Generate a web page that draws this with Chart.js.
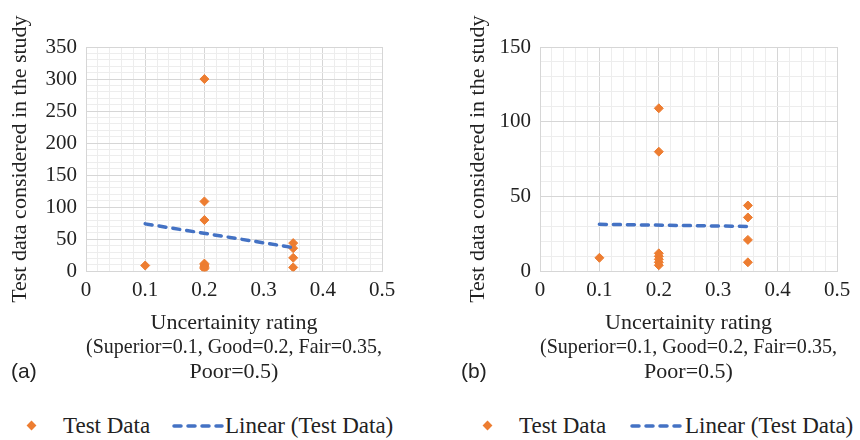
<!DOCTYPE html>
<html>
<head>
<meta charset="utf-8">
<script src="https://cdn.jsdelivr.net/npm/chart.js@4/dist/chart.umd.min.js"></script>
<style>
  html, body { margin: 0; padding: 0; background: #fff; overflow: hidden; }
  #wrap { position: relative; width: 860px; height: 440px; }
  canvas { position: absolute; top: 0; }
  .tag { position: absolute; font: 21px 'Liberation Sans', Arial, sans-serif; color: #222; line-height: 1; }
  .legend { position: absolute; top: 413px; height: 26px; font-family: 'Liberation Serif', 'DejaVu Serif', 'Times New Roman', Times, serif; font-size: 23px; color: #222; }
  .legend span { position: absolute; top: 0; white-space: nowrap; line-height: 26px; }
  .legend .dot { width: 7px; height: 7px; background: #ed7d31; transform: rotate(45deg); top: 9px; }
  .legend svg { position: absolute; top: 11px; }
</style>
</head>
<body>
<div id="wrap">
  <canvas id="chartA" width="430" height="384" style="left:0px"></canvas>
  <canvas id="chartB" width="406" height="384" style="left:454px"></canvas>
  <div class="tag" style="left:11px; top:360px">(a)</div>
  <div class="tag" style="left:461px; top:360px">(b)</div>
  <div class="legend" style="left:0px">
    <span class="dot" style="left:28px"></span>
    <span style="left:63px">Test Data</span>
    <svg width="52" height="4" style="left:172px"><line x1="2" y1="2" x2="50" y2="2" stroke="#4472c4" stroke-width="3.5" stroke-linecap="round" stroke-dasharray="7 7"/></svg>
    <span style="left:225px">Linear (Test Data)</span>
  </div>
  <div class="legend" style="left:456px">
    <span class="dot" style="left:28px"></span>
    <span style="left:63px">Test Data</span>
    <svg width="52" height="4" style="left:174px"><line x1="2" y1="2" x2="50" y2="2" stroke="#4472c4" stroke-width="3.5" stroke-linecap="round" stroke-dasharray="7 7"/></svg>
    <span style="left:229px">Linear (Test Data)</span>
  </div>
</div>
<script>
// uncertainty rating of each study (Superior=0.1, Good=0.2, Fair=0.35, Poor=0.5)
const ratingA = [0.1, 0.2, 0.2, 0.2, 0.2, 0.2, 0.2, 0.2, 0.2, 0.35, 0.35, 0.35, 0.35];
const testsA = [9, 300, 109, 80, 12, 10, 8, 6, 4, 44, 36, 21, 6];

// panel (b) leaves out the 300-test outlier
const ratingB = [0.1, 0.2, 0.2, 0.2, 0.2, 0.2, 0.2, 0.2, 0.35, 0.35, 0.35, 0.35];
const testsB = [9, 109, 80, 12, 10, 8, 6, 4, 44, 36, 21, 6];

// linear trendline ends as drawn in the figure
const trendX = [0.1, 0.35];
const trendA = [74, 37];
const trendB = [31.4, 30];

const xTicks = [0, 0.1, 0.2, 0.3, 0.4, 0.5];
const yMaxA = 350;
const yMaxB = 150;

const serif = "'Liberation Serif', 'DejaVu Serif', 'Times New Roman', Times, serif";
const textColor = '#222';
const majorGrid = '#d6d6d6';
const minorGrid = '#ededed';

const toPoints = (xs, ys) => xs.map((x, i) => ({ x, y: ys[i] }));
const isMajorX = (v) => xTicks.some((t) => Math.abs(t - v) < 1e-6);
const isMajorY = (v) => Math.abs(v % 50) < 1e-6;

const makeChart = (id, xs, ys, trend, yMax, titlePad, padRight) => {
  new Chart(document.getElementById(id), {
    type: 'scatter',
    data: {
      datasets: [
        {
          label: 'Linear (Test Data)',
          data: toPoints(trendX, trend),
          showLine: true,
          borderColor: '#4472c4',
          borderWidth: 3.5,
          borderDash: [7, 7],
          borderCapStyle: 'round',
          pointRadius: 0,
          fill: false
        },
        {
          label: 'Test Data',
          data: toPoints(xs, ys),
          pointStyle: 'rectRot',
          pointRadius: 4.5,
          backgroundColor: '#ed7d31',
          borderColor: '#ed7d31',
          borderWidth: 1
        }
      ]
    },
    options: {
      responsive: false,
      animation: false,
      devicePixelRatio: 1,
      layout: { padding: { top: 47, right: padRight, bottom: 0, left: 0 } },
      plugins: { legend: { display: false }, tooltip: { enabled: false } },
      scales: {
        x: {
          type: 'linear',
          min: 0,
          max: 0.5,
          border: { color: majorGrid },
          grid: {
            drawTicks: false,
            color: (ctx) => (ctx.tick && isMajorX(ctx.tick.value) ? majorGrid : minorGrid)
          },
          ticks: {
            stepSize: 0.02,
            autoSkip: false,
            maxRotation: 0,
            padding: 7,
            color: textColor,
            font: { family: serif, size: 21 },
            callback: (v) => (isMajorX(v) ? String(Math.round(v * 10) / 10) : '')
          },
          title: {
            display: true,
            text: ['Uncertainity rating', '(Superior=0.1, Good=0.2, Fair=0.35,', 'Poor=0.5)'],
            color: textColor,
            font: { family: serif, size: 22, lineHeight: 1.114 },
            padding: { top: 0, bottom: 0 }
          }
        },
        y: {
          min: 0,
          max: yMax,
          border: { color: majorGrid },
          grid: {
            drawTicks: false,
            color: (ctx) => (ctx.tick && isMajorY(ctx.tick.value) ? majorGrid : minorGrid)
          },
          ticks: {
            stepSize: 10,
            autoSkip: false,
            padding: 9,
            color: textColor,
            font: { family: serif, size: 21 },
            callback: (v) => (isMajorY(v) ? String(v) : '')
          },
          title: {
            display: true,
            text: 'Test data considered in the study',
            color: textColor,
            font: { family: serif, size: 22 },
            padding: { top: titlePad, bottom: 0 }
          },
          afterFit: (scale) => {
            scale.width = 86;
          }
        }
      }
    }
  });
};

makeChart('chartA', ratingA, testsA, trendA, yMaxA, 6.8, 48);
makeChart('chartB', ratingB, testsB, trendB, yMaxB, 10.8, 23);
</script>
</body>
</html>
